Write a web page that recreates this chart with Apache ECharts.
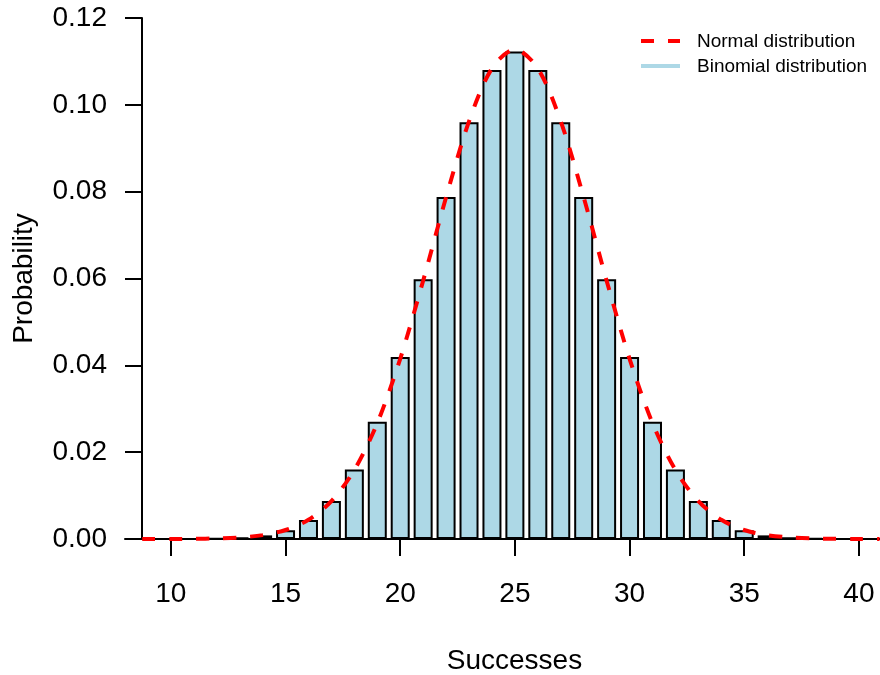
<!DOCTYPE html>
<html>
<head>
<meta charset="utf-8">
<script src="https://cdn.jsdelivr.net/npm/echarts@6/dist/echarts.min.js"></script>
<style>
  html, body { margin: 0; padding: 0; background: #fff; }
  #main { width: 880px; height: 675px; }
</style>
</head>
<body>
<div id="main"></div>
<script>
// number of successes (x positions of the bars)
const successes = [9, 10, 11, 12, 13, 14, 15, 16, 17, 18, 19, 20, 21, 22, 23, 24,
  25, 26, 27, 28, 29, 30, 31, 32, 33, 34, 35, 36, 37, 38, 39, 40];
// binomial probabilities
const binomProb = [0.0000022, 0.0000091, 0.0000332, 0.000108, 0.000315, 0.000833,
  0.0020, 0.00437, 0.00875, 0.0160, 0.0270, 0.0419, 0.0598, 0.0788, 0.0960, 0.1080,
  0.1123, 0.1080, 0.0960, 0.0788, 0.0598, 0.0419, 0.0270, 0.0160, 0.00875, 0.00437,
  0.0020, 0.000833, 0.000315, 0.000108, 0.0000332, 0.0000091];
// normal curve points (x, density)
const normalX = [8.75, 9, 10, 11, 12, 13, 14, 15, 16, 17, 18, 19, 20, 21, 22, 23, 24,
  25, 26, 27, 28, 29, 30, 31, 32, 33, 34, 35, 36, 37, 38, 39, 40, 40.9];
const normalDensity = [0.0000029, 0.000004, 0.0000139, 0.0000445, 0.000131, 0.000356,
  0.000893, 0.00207, 0.00442, 0.00872, 0.0159, 0.0267, 0.0415, 0.0595, 0.0787, 0.0962,
  0.1084, 0.1128, 0.1084, 0.0962, 0.0787, 0.0595, 0.0415, 0.0267, 0.0159, 0.00872,
  0.00442, 0.00207, 0.000893, 0.000356, 0.000131, 0.0000445, 0.0000139, 0.0000046];
// tick labels
const xTicks = [10, 15, 20, 25, 30, 35, 40];

const font = 'Liberation Sans, Arial, Helvetica, sans-serif';
const chart = echarts.init(document.getElementById('main'));

const option = {
  animation: false,
  backgroundColor: '#ffffff',
  grid: { left: 125, right: 0, top: 18, bottom: 136, containLabel: false, outerBoundsMode: 'none' },
  xAxis: {
    type: 'value',
    min: 8,
    max: 40.92,
    name: 'Successes',
    nameLocation: 'middle',
    nameGap: 108,
    nameTextStyle: { color: '#000', fontSize: 28, fontFamily: font, padding: [0, 0, 0, 24] },
    splitLine: { show: false },
    axisLine: { show: true, onZero: false, lineStyle: { color: '#000', width: 2 } },
    axisTick: { show: true, length: 17, lineStyle: { color: '#000', width: 2 }, customValues: xTicks },
    axisLabel: { color: '#000', fontSize: 28, fontFamily: font, margin: 41, customValues: xTicks }
  },
  yAxis: {
    type: 'value',
    min: 0,
    max: 0.12,
    interval: 0.02,
    offset: -17,
    name: 'Probability',
    nameLocation: 'middle',
    nameGap: 104,
    nameRotate: 90,
    nameTextStyle: { color: '#000', fontSize: 28, fontFamily: font },
    splitLine: { show: false },
    axisLine: { show: true, lineStyle: { color: '#000', width: 2 } },
    axisTick: { show: true, length: 17, lineStyle: { color: '#000', width: 2 } },
    axisLabel: {
      color: '#000', fontSize: 28, fontFamily: font, margin: 35,
      formatter: v => v.toFixed(2)
    }
  },
  series: [
    {
      name: 'Binomial distribution',
      type: 'bar',
      barWidth: 19,
      data: successes.map((k, i) => [k, binomProb[i]]),
      itemStyle: { color: '#ADD8E6', borderColor: '#000', borderWidth: 2 },
      z: 2
    },
    {
      name: 'Normal distribution',
      type: 'line',
      data: normalX.map((x, i) => [x, normalDensity[i]]),
      smooth: 0.3,
      showSymbol: false,
      lineStyle: { color: '#FF0000', width: 4, type: [13, 14], cap: 'butt' },
      z: 3
    }
  ],
  graphic: [
    { type: 'line', shape: { x1: 641, y1: 41, x2: 680, y2: 41 },
      style: { stroke: '#FF0000', lineWidth: 4, lineDash: [13, 14] } },
    { type: 'line', shape: { x1: 641, y1: 66, x2: 680, y2: 66 },
      style: { stroke: '#ADD8E6', lineWidth: 4 } },
    { type: 'text', x: 697, y: 42,
      style: { text: 'Normal distribution', fill: '#000', fontSize: 19, fontFamily: font, verticalAlign: 'middle' } },
    { type: 'text', x: 697, y: 67,
      style: { text: 'Binomial distribution', fill: '#000', fontSize: 19, fontFamily: font, verticalAlign: 'middle' } }
  ]
};

option && chart.setOption(option);
</script>
</body>
</html>
